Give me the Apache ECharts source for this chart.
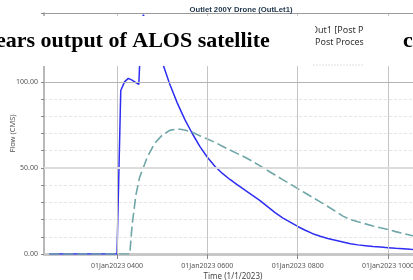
<!DOCTYPE html>
<html>
<head>
<meta charset="utf-8">
<script src="https://cdn.jsdelivr.net/npm/echarts@6/dist/echarts.min.js"></script>
<style>
  html, body { margin: 0; padding: 0; background: #fff; }
  #flow_chart { width: 413px; height: 280px; }
</style>
</head>
<body>
<div id="flow_chart"></div>
<script>
var blueTimes = ['02:30', '04:00', '04:05', '04:10', '04:15', '04:20', '04:25', '04:29', '04:31', '04:33', '04:35', '04:40', '04:50', '05:00',
    '05:10', '05:20', '05:30', '05:40', '05:50', '06:00', '06:10', '06:20', '06:30', '06:40', '06:50',
    '07:00', '07:10', '07:20', '07:30', '07:40', '07:50', '08:00', '08:10', '08:20', '08:30', '08:40', '08:50',
    '09:00', '09:10', '09:20', '09:30', '09:40', '09:50', '10:00', '10:10', '10:20', '10:30', '10:40'];
var blueFlow = [0, 0, 95, 100, 102, 101, 99.5, 98.5, 120, 135, 139, 133, 121, 111.5,
    98.7, 87.8, 78.2, 70.0, 62.5, 56.2, 51.0, 46.8, 43.3, 40.2, 37.1,
    34.0, 31.0, 27.5, 24.0, 21.0, 18.5, 16.0, 13.8, 11.8, 10.3, 9.0, 8.0,
    7.0, 6.0, 5.3, 4.8, 4.3, 4.0, 3.7, 3.3, 3.0, 2.7, 2.5];

var tealTimes = ['02:30', '04:00', '04:17', '04:20', '04:25', '04:30', '04:40', '04:50', '05:00',
    '05:10', '05:20', '05:30', '05:40', '05:50', '06:00', '06:10', '06:20', '06:30', '06:40', '06:50',
    '07:00', '07:10', '07:20', '07:30', '07:40', '07:50', '08:00', '08:10', '08:20', '08:30', '08:40', '08:50',
    '09:00', '09:10', '09:20', '09:30', '09:40', '09:50', '10:00', '10:10', '10:20', '10:30', '10:40'];
var tealFlow = [0, 0, 0, 16.5, 34, 44.5, 56, 64.3, 69,
    71.8, 72.7, 72.0, 70.7, 68.7, 66.8, 64.9, 62.6, 60.4, 58.3, 56.2,
    53.8, 51.2, 48.5, 45.9, 43.2, 40.7, 38.0, 35.4, 32.8, 30.3, 27.6, 24.9,
    22.0, 20.0, 18.7, 17.5, 16.3, 15.2, 14.2, 13.0, 11.9, 10.9, 10.0];

var hourTicks = [4, 6, 8, 10];
var majorFlows = [50, 100];

function toHours(t) {
    var p = t.split(':');
    return +p[0] + (+p[1]) / 60;
}
function pairs(times, vals) {
    return times.map(function (t, i) { return [toHours(t), vals[i]]; });
}

var chartFlow = echarts.init(document.getElementById('flow_chart'));

var labelFont = { fontFamily: 'Noto Sans', fontSize: 7, color: '#555' };

var gridMarks = hourTicks.map(function (h) {
    return { xAxis: h, lineStyle: { color: '#c4c4c4', width: 1, type: 'solid' } };
}).concat(majorFlows.map(function (v) {
    return { yAxis: v, lineStyle: { color: v === 50 ? '#dcdcdc' : '#b4b4b4', width: v === 50 ? 2 : 1, type: 'solid' } };
})).concat([{ yAxis: 140, lineStyle: { color: '#9a9a9a', width: 1, type: 'solid' } }]);

option = {
    animation: false,
    title: {
        text: 'Outlet 200Y Drone (OutLet1)',
        left: 236,
        top: 1,
        textAlign: 'center',
        textStyle: { fontFamily: 'Liberation Sans', fontSize: 7.7, fontWeight: 'bold', color: '#22384f' }
    },
    grid: { left: 44, right: -9, top: 13, bottom: 26, outerBoundsMode: 'none', containLabel: false },
    xAxis: {
        type: 'value',
        min: 2.384,
        max: 10.752,
        name: 'Time (1/1/2023)',
        nameLocation: 'middle',
        nameGap: 19,
        nameMoveOverlap: false,
        nameTextStyle: { fontFamily: 'Noto Sans', fontSize: 8, color: '#444' },
        axisLine: { lineStyle: { color: '#c8c8c8', width: 3 } },
        axisTick: { customValues: hourTicks, length: 5, lineStyle: { color: '#888' } },
        axisLabel: {
            customValues: hourTicks,
            margin: 8,
            fontFamily: labelFont.fontFamily, fontSize: labelFont.fontSize, color: labelFont.color,
            formatter: function (h) {
                return '01Jan2023 ' + (h < 10 ? '0' + h : '' + h) + '00';
            }
        },
        splitLine: { show: false }
    },
    yAxis: {
        type: 'value',
        min: 0,
        max: 140,
        interval: 10,
        name: 'Flow (CMS)',
        nameLocation: 'middle',
        nameGap: 27,
        nameMoveOverlap: false,
        nameTextStyle: { fontFamily: 'Noto Sans', fontSize: 7.5, color: '#555' },
        axisLine: { show: true, lineStyle: { color: '#a0a0a0', width: 1.5 } },
        axisTick: { show: true, length: 3, lineStyle: { color: '#888' } },
        axisLabel: {
            margin: 6,
            fontFamily: labelFont.fontFamily, fontSize: labelFont.fontSize, color: labelFont.color,
            formatter: function (v) { return v % 50 === 0 ? v.toFixed(2) : ''; }
        },
        splitLine: { show: true, lineStyle: { color: '#e6e6e6', width: 1, type: [3, 2] } }
    },
    series: [
        {
            name: 'grid',
            type: 'line',
            z: 1,
            silent: true,
            showSymbol: false,
            lineStyle: { opacity: 0 },
            data: pairs(blueTimes, blueFlow),
            markLine: {
                silent: true,
                symbol: ['none', 'none'],
                label: { show: false },
                emphasis: { disabled: true },
                data: gridMarks
            }
        },
        {
            name: 'Outlet 200Y Drone',
            type: 'line',
            z: 3,
            showSymbol: false,
            lineStyle: { color: '#2e2ef2', width: 1.5 },
            data: pairs(blueTimes, blueFlow)
        },
        {
            name: 'Out1 [Post Processed]',
            type: 'line',
            z: 4,
            showSymbol: false,
            lineStyle: { color: '#6fa6a7', width: 1.6, type: [10, 4] },
            data: pairs(tealTimes, tealFlow)
        }
    ],
    graphic: [
        { type: 'rect', z: 100, shape: { x: 0, y: 16, width: 413, height: 50 }, style: { fill: '#fff' } },
        {
            type: 'text', z: 101, x: -4, y: 41,
            style: { text: 'ears output of ALOS satellite', font: 'bold 22px "Liberation Serif"', fill: '#000', align: 'left', verticalAlign: 'middle' }
        },
        {
            type: 'text', z: 101, x: 311, y: 30.5,
            style: { text: 'Out1 [Post Proces', font: '9px "Noto Sans"', fill: '#333', align: 'left', verticalAlign: 'middle' }
        },
        {
            type: 'text', z: 101, x: 315, y: 42.5,
            style: { text: 'Post Processed', font: '9px "Noto Sans"', fill: '#333', align: 'left', verticalAlign: 'middle' }
        },
        { type: 'rect', z: 102, shape: { x: 296, y: 22, width: 19, height: 14 }, style: { fill: '#fff' } },
        { type: 'rect', z: 102, shape: { x: 363.5, y: 20, width: 38.5, height: 32 }, style: { fill: '#fff' } },
        { type: 'line', z: 102, shape: { x1: 313, y1: 65, x2: 363, y2: 65 }, style: { stroke: '#e0e0e0', lineWidth: 1, lineDash: [2, 1] } },
        {
            type: 'text', z: 103, x: 403, y: 41,
            style: { text: 'c', font: 'bold 22px "Liberation Serif"', fill: '#000', align: 'left', verticalAlign: 'middle' }
        }
    ]
};

chartFlow.setOption(option);

window.addEventListener('resize', function () {
    if (chartFlow != null && chartFlow != undefined) {
        chartFlow.resize();
    }
});
</script>
</body>
</html>
